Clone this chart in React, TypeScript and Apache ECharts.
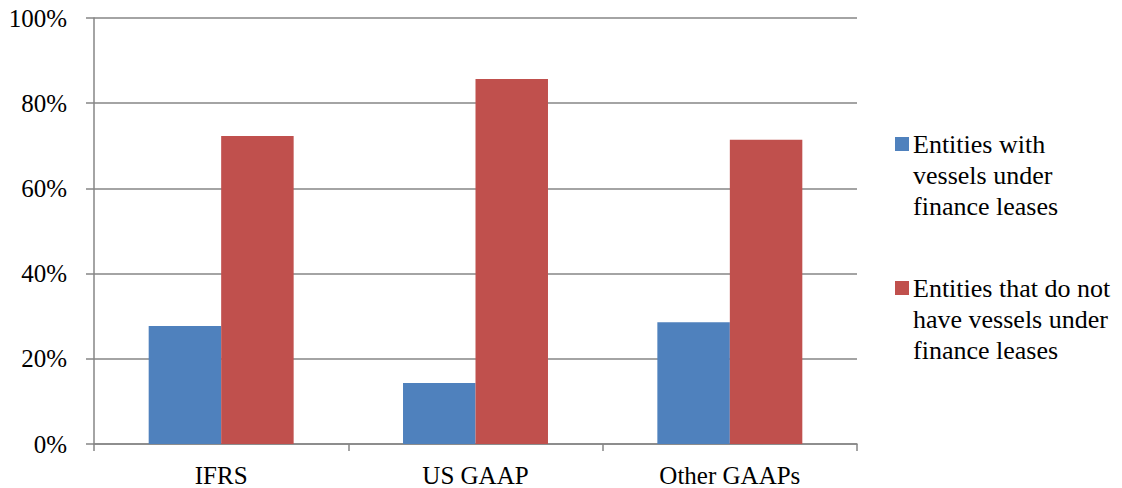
import React, { useEffect, useRef } from "react";
import * as echarts from "echarts";

const categories = ["IFRS", "US GAAP", "Other GAAPs"];
const seriesNames = [
  "Entities with\nvessels under\nfinance leases",
  "Entities that do not\nhave vessels under\nfinance leases",
];
const withLeases = [27.7, 14.3, 28.6];
const withoutLeases = [72.3, 85.7, 71.4];
const colors = ["#4F81BD", "#C0504D"];
const FONT = "Times New Roman, Liberation Serif, DejaVu Serif, serif";

export default function App() {
  const ref = useRef<HTMLDivElement>(null);
  useEffect(() => {
    if (!ref.current) return;
    const chart = echarts.init(ref.current, undefined, { renderer: "svg" });
    const legendTop = [137, 281];
    chart.setOption({
      animation: false,
      textStyle: { fontFamily: FONT },
      grid: { left: 94, right: 265, top: 18, bottom: 44, containLabel: false },
      xAxis: {
        type: "category",
        data: categories,
        axisLine: { lineStyle: { color: "#868686", width: 1.5 } },
        axisTick: { show: true, length: 7, lineStyle: { color: "#868686", width: 1.5 } },
        axisLabel: { color: "#000", fontFamily: FONT, fontSize: 25, margin: 19 },
      },
      yAxis: {
        type: "value",
        min: 0,
        max: 100,
        interval: 20,
        axisLine: { show: true, lineStyle: { color: "#868686", width: 1.5 } },
        axisTick: { show: true, length: 8, lineStyle: { color: "#868686", width: 1.5 } },
        splitLine: { lineStyle: { color: "#868686", width: 1.5 } },
        axisLabel: {
          color: "#000",
          fontFamily: FONT,
          fontSize: 25,
          margin: 27,
          formatter: (v: number) => v + "%",
        },
      },
      series: [
        {
          type: "bar",
          name: seriesNames[0],
          data: withLeases,
          itemStyle: { color: colors[0] },
          barGap: "0%",
          barCategoryGap: "43%",
        },
        {
          type: "bar",
          name: seriesNames[1],
          data: withoutLeases,
          itemStyle: { color: colors[1] },
        },
      ],
      graphic: seriesNames.flatMap((name, i) => [
        {
          type: "rect",
          shape: { x: 895, y: legendTop[i], width: 14, height: 14 },
          style: { fill: colors[i] },
        },
        {
          type: "text",
          x: 913,
          y: legendTop[i] - 8,
          style: {
            text: name,
            fontFamily: FONT,
            fontSize: 26,
            lineHeight: 31,
            fill: "#000",
            verticalAlign: "top",
          },
        },
      ]),
    });
    return () => chart.dispose();
  }, []);
  return <div ref={ref} style={{ width: 1122, height: 488, position: "absolute", left: 0, top: 0 }} />;
}
